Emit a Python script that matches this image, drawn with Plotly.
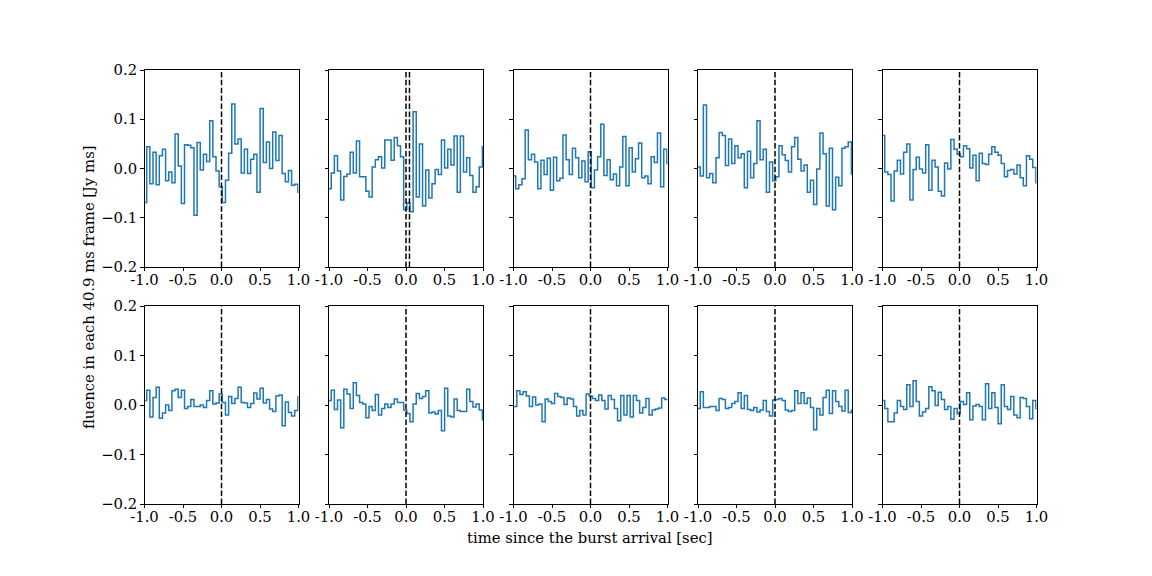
import plotly.graph_objects as go

BIN_WIDTH = 0.0409  # sec

# start time of first bin for each panel
starts = [-1.012, -1.012, -1.012, -1.012, -1.012,
          -1.012, -1.012, -0.998, -1.012, -1.012]

p1 = [-0.069, 0.044, -0.031, 0.033, -0.033, 0.026, 0.039, -0.025, -0.007, -0.029,
      0.070, 0.005, -0.071, 0.048, 0.047, 0.042, -0.095, 0.053, -0.003, 0.029,
      0.014, 0.097, 0.024, -0.005, -0.037, -0.069, -0.024, 0.031, 0.131, 0.050,
      0.060, -0.009, 0.039, -0.010, 0.019, 0.029, -0.048, 0.122, 0.012, 0.054,
      0.0, 0.074, 0.016, 0.067, -0.010, -0.027, -0.004, -0.034, -0.032, -0.048]
p2 = [-0.041, -0.009, 0.026, -0.005, -0.064, -0.016, -0.011, 0.033, -0.009, 0.056,
      -0.017, -0.017, -0.046, -0.058, 0.003, 0.018, 0.024, 0.001, 0.058, 0.058,
      0.017, 0.063, 0.046, 0.024, -0.084, -0.070, -0.088, 0.115, -0.058, 0.050,
      -0.076, -0.003, -0.060, -0.031, -0.002, -0.012, 0.058, 0.001, 0.039, 0.007,
      0.066, -0.048, 0.066, -0.007, 0.022, -0.014, -0.048, -0.037, 0.003, 0.044]
p3 = [-0.015, -0.041, -0.033, -0.021, 0.078, 0.018, 0.029, 0.013, -0.041, 0.017,
      -0.012, 0.021, -0.044, 0.023, -0.025, -0.020, 0.068, 0.018, -0.012, 0.041,
      0.022, -0.019, 0.015, -0.027, 0.034, -0.039, -0.003, 0.024, 0.090, -0.014,
      0.018, -0.023, -0.011, -0.035, 0.003, 0.065, -0.035, 0.042, -0.007, 0.020,
      0.052, -0.019, -0.015, -0.031, 0.024, 0.012, 0.072, -0.037, 0.039, 0.010]
p4 = [0.003, -0.015, 0.129, -0.019, -0.010, -0.029, 0.022, 0.073, 0.067, 0.006,
      0.060, 0.010, 0.046, 0.022, 0.030, -0.039, 0.035, -0.019, 0.010, 0.097,
      0.018, 0.039, -0.048, 0.013, -0.025, -0.017, 0.046, 0.028, 0.016, -0.007,
      0.044, 0.063, 0.019, -0.005, 0.007, -0.048, -0.024, -0.073, -0.001, 0.072,
      0.030, -0.076, 0.041, -0.084, -0.018, -0.035, 0.041, 0.044, 0.054, -0.011]
p5 = [0.067, -0.007, -0.012, -0.066, -0.005, 0.017, -0.011, 0.033, 0.050, -0.064,
      -0.002, 0.023, -0.001, -0.009, 0.048, -0.044, 0.017, 0.003, -0.046, -0.056,
      0.011, -0.001, 0.059, 0.039, 0.029, 0.024, 0.046, 0.040, 0.001, 0.027,
      -0.025, 0.031, 0.010, 0.008, 0.029, 0.044, 0.033, 0.027, 0.010, -0.017,
      -0.004, -0.002, -0.011, 0.007, -0.019, -0.035, 0.026, 0.019, 0.002, -0.029]
p6 = [0.009, 0.030, -0.024, 0.015, 0.036, -0.027, -0.016, 0.0, -0.011, 0.029,
      0.032, 0.015, 0.030, -0.007, -0.003, 0.011, -0.003, -0.003, 0.0, -0.005,
      0.009, 0.029, 0.002, 0.004, 0.022, 0.005, -0.020, 0.017, 0.003, 0.013,
      0.036, 0.005, 0.004, -0.005, 0.003, 0.024, 0.012, 0.034, 0.004, 0.011,
      -0.008, -0.013, 0.018, 0.020, -0.042, 0.006, -0.015, -0.022, -0.011, 0.016]
p7 = [0.009, 0.030, -0.009, 0.010, -0.046, 0.032, 0.022, -0.007, 0.045, 0.019,
      0.005, 0.002, -0.026, -0.003, -0.011, 0.021, -0.020, -0.007, 0.002, -0.005,
      0.002, 0.012, 0.005, 0.005, -0.010, -0.017, -0.034, 0.002, 0.023, 0.013,
      0.017, 0.029, -0.016, -0.014, -0.018, -0.011, -0.052, 0.034, -0.022, -0.024,
      0.012, -0.011, -0.013, -0.013, 0.032, 0.007, -0.004, 0.002, -0.010, -0.030]
p8 = [-0.003, 0.029, 0.021, 0.027, 0.018, -0.003, 0.016, 0.0, 0.002, -0.034,
      0.012, 0.007, 0.003, 0.023, 0.017, 0.015, 0.001, 0.014, 0.012, -0.003,
      -0.022, -0.011, -0.020, 0.022, 0.018, 0.013, 0.009, 0.020, 0.009, -0.008,
      0.019, 0.011, -0.007, -0.032, 0.019, -0.020, 0.019, -0.024, 0.019, 0.009,
      -0.016, -0.005, 0.013, -0.020, -0.010, -0.008, -0.006, 0.014, 0.011]
p9 = [-0.007, 0.027, -0.005, -0.005, -0.003, -0.003, -0.011, 0.013, 0.011, -0.007,
      -0.005, 0.003, 0.007, 0.025, -0.007, 0.019, -0.009, -0.011, -0.005, -0.014,
      -0.010, 0.009, -0.013, -0.022, 0.010, 0.011, 0.013, 0.009, -0.010, -0.013,
      -0.011, 0.029, 0.003, 0.025, 0.003, 0.014, -0.005, -0.050, -0.007, -0.020,
      0.015, 0.030, -0.017, 0.029, 0.007, -0.003, -0.012, 0.030, -0.015, -0.010]
p10 = [0.009, -0.007, -0.034, -0.034, -0.016, 0.009, -0.003, -0.009, 0.041, -0.003,
       0.049, 0.007, -0.022, -0.014, -0.007, 0.037, 0.029, -0.001, 0.026, 0.011,
       -0.009, -0.003, -0.029, -0.007, -0.017, 0.007, 0.001, 0.025, -0.030, -0.002,
       0.001, -0.003, -0.030, 0.043, -0.007, 0.025, -0.005, -0.038, 0.041, -0.003,
       -0.009, 0.017, -0.020, -0.026, 0.015, 0.013, -0.003, -0.028, 0.009, -0.007]

panels = [p1, p2, p3, p4, p5, p6, p7, p8, p9, p10]

# burst arrival markers (dashed lines) per panel
markers = [[0.0], [0.0, 0.045], [0.0], [0.0], [0.0],
           [0.0], [0.0], [0.0], [0.0], [0.0]]

xtick_vals = [-1.0, -0.5, 0.0, 0.5, 1.0]
xtick_text = ["-1.0", "-0.5", "0.0", "0.5", "1.0"]
ytick_vals = [-0.2, -0.1, 0.0, 0.1, 0.2]
ytick_text = ["\u22120.2", "\u22120.1", "0.0", "0.1", "0.2"]

# the page body adds an 8 px margin; the figure is sized to fill the rest
OFF = 8
W, H = 1152 - OFF, 576 - OFF
col_px = [(144.5, 298.5), (329, 483), (513.5, 667.5), (698, 852), (882.5, 1036.5)]
row_px = [(70, 267), (306, 504)]


def fx(p):
    return (p - OFF) / W


def fy(p):
    return 1 - (p - OFF) / H


FONT = "DejaVu Serif"
FS = 14.8
fig = go.Figure()
layout = {}
shapes = []

for i, vals in enumerate(panels):
    r, c = divmod(i, 5)
    n = i + 1
    xa = "x" if n == 1 else f"x{n}"
    ya = "y" if n == 1 else f"y{n}"
    xs = [starts[i] + k * BIN_WIDTH for k in range(len(vals) + 1)]
    ys = list(vals) + [vals[-1]]
    fig.add_trace(go.Scatter(x=xs, y=ys, mode="lines", line_shape="hv",
                             line=dict(color="#1f77b4", width=1.5),
                             xaxis=xa, yaxis=ya, showlegend=False,
                             hoverinfo="skip"))
    x0, x1 = col_px[c]
    y0, y1 = row_px[r]
    layout[f"xaxis{'' if n == 1 else n}"] = dict(
        domain=[fx(x0), fx(x1)], anchor=ya, range=[-1, 1], automargin=False,
        tickvals=xtick_vals, ticktext=xtick_text, ticks="outside", ticklen=3.5,
        ticklabelstandoff=-4,
        tickwidth=0.8, tickcolor="black", showline=True, linecolor="black",
        linewidth=0.8, mirror=True, showgrid=False, zeroline=False,
        tickfont=dict(family=FONT, size=FS, color="black"))
    layout[f"yaxis{'' if n == 1 else n}"] = dict(
        domain=[fy(y1), fy(y0)], anchor=xa, range=[-0.2, 0.2], automargin=False,
        tickvals=ytick_vals, ticktext=ytick_text, ticks="outside", ticklen=3.5,
        tickwidth=0.8, tickcolor="black", showline=True, linecolor="black",
        linewidth=0.8, mirror=True, showgrid=False, zeroline=False,
        showticklabels=(c == 0),
        tickfont=dict(family=FONT, size=FS, color="black"))
    for m in markers[i]:
        shapes.append(dict(type="line", xref=xa, yref=f"{ya} domain",
                           x0=m, x1=m, y0=0, y1=1,
                           line=dict(color="black", width=1.5, dash="5.5px,2.4px")))

fig.update_layout(
    width=W, height=H, margin=dict(l=0, r=0, t=0, b=0, pad=0, autoexpand=False),
    plot_bgcolor="white", paper_bgcolor="white",
    shapes=shapes,
    annotations=[
        dict(text="time since the burst arrival [sec]", xref="paper", yref="paper",
             x=fx(590), y=fy(537), showarrow=False, xanchor="center", yanchor="middle",
             font=dict(family=FONT, size=FS, color="black")),
        dict(text="fluence in each 40.9 ms frame [Jy ms]", xref="paper", yref="paper",
             x=fx(88), y=fy(287), showarrow=False, textangle=-90,
             xanchor="center", yanchor="middle",
             font=dict(family=FONT, size=FS, color="black")),
    ],
    **layout)

fig.write_html("out.html")
